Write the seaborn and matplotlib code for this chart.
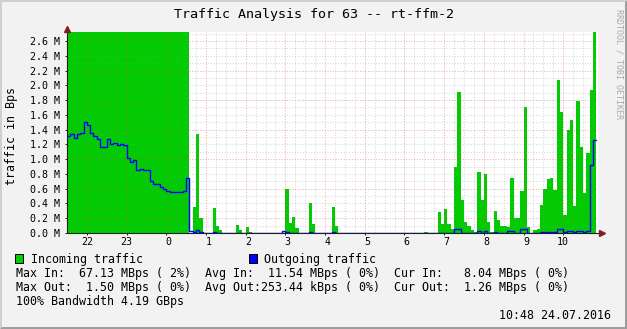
import numpy as np
import pandas as pd
import matplotlib
matplotlib.use("Agg")
import matplotlib.pyplot as plt
from matplotlib.patches import Polygon, Rectangle
import seaborn as sns

# ---------------- data (5-minute steps, starting 21:30) ----------------
start_hour = 21.5
step_hours = 5 / 60

incoming_mbps = [
    41.2, 44.8, 47.5, 50.3, 52.9, 55.6, 58.1, 60.4, 62.7, 64.9,
    66.2, 67.13, 66.5, 65.8, 64.3, 63.1, 61.9, 60.2, 58.7, 57.4,
    56.0, 54.3, 52.8, 51.1, 49.6, 48.2, 46.7, 45.1, 43.6, 42.0,
    40.5, 38.9, 37.2, 35.8, 34.1, 32.6, 30.9, 0.0, 0.35, 1.34,
    0.2, 0, 0, 0, 0.34, 0.1, 0.04, 0, 0, 0,
    0, 0.11, 0.04, 0, 0.08, 0.02, 0, 0, 0, 0,
    0, 0, 0, 0, 0, 0, 0.6, 0.13, 0.22, 0.07,
    0, 0, 0, 0.41, 0.12, 0, 0, 0, 0, 0,
    0.35, 0.1, 0, 0, 0, 0, 0, 0, 0, 0,
    0, 0, 0, 0, 0, 0, 0, 0, 0, 0,
    0, 0, 0, 0, 0, 0, 0, 0, 0.02, 0,
    0, 0, 0.29, 0.12, 0.32, 0.12, 0.05, 0.9, 1.91, 0.45,
    0.15, 0.1, 0.04, 0.02, 0.83, 0.45, 0.8, 0.15, 0.02, 0.3,
    0.17, 0.1, 0.1, 0.08, 0.74, 0.2, 0.2, 0.57, 1.71, 0.08,
    0, 0.04, 0.06, 0.38, 0.6, 0.73, 0.74, 0.58, 2.07, 1.64,
    0.25, 1.39, 1.53, 0.36, 1.79, 1.17, 0.54, 1.08, 1.94, 8.04,
]

outgoing_mbps = [
    1.32, 1.34, 1.28, 1.34, 1.36, 1.50, 1.46, 1.35, 1.32, 1.27,
    1.16, 1.17, 1.27, 1.20, 1.22, 1.19, 1.21, 1.19, 1.01, 0.96,
    0.99, 0.85, 0.86, 0.85, 0.85, 0.70, 0.66, 0.67, 0.62, 0.59,
    0.57, 0.56, 0.56, 0.55, 0.56, 0.57, 0.74, 0.03, 0.02, 0.04,
    0.02, 0, 0, 0, 0.01, 0, 0, 0, 0, 0,
    0, 0, 0, 0, 0, 0, 0, 0, 0, 0,
    0, 0, 0, 0, 0, 0.03, 0.02, 0, 0, 0,
    0, 0, 0, 0.02, 0, 0, 0, 0, 0, 0,
    0.02, 0, 0, 0, 0, 0, 0, 0, 0, 0,
    0, 0, 0, 0, 0, 0, 0, 0, 0, 0,
    0, 0, 0, 0, 0, 0, 0, 0, 0, 0,
    0, 0, 0, 0, 0, 0, 0, 0.05, 0.05, 0,
    0, 0, 0, 0, 0.03, 0, 0.03, 0, 0, 0.02,
    0, 0, 0, 0.03, 0.03, 0, 0, 0.05, 0.05, 0,
    0, 0, 0, 0.02, 0.01, 0.01, 0.02, 0.02, 0.05, 0.05,
    0.01, 0.03, 0.03, 0.01, 0.03, 0.03, 0.02, 0.03, 0.92, 1.26,
]

hour_ticks = [22, 23, 24, 25, 26, 27, 28, 29, 30, 31, 32, 33, 34]
hour_labels = ["22", "23", " 0", " 1", " 2", " 3", " 4", " 5", " 6", " 7", " 8", " 9", "10"]
y_ticks = [0.0, 0.2, 0.4, 0.6, 0.8, 1.0, 1.2, 1.4, 1.6, 1.8, 2.0, 2.2, 2.4, 2.6]
y_major_grid = [0.2, 0.6, 1.0, 1.4, 1.8, 2.2, 2.6]

title = "Traffic Analysis for 63 -- rt-ffm-2"
y_label = "traffic in Bps"
legend_in = "Incoming traffic"
legend_out = "Outgoing traffic"
stat_rows = [
    "Max In:  67.13 MBps ( 2%)  Avg In:  11.54 MBps ( 0%)  Cur In:   8.04 MBps ( 0%)",
    "Max Out:  1.50 MBps ( 0%)  Avg Out:253.44 kBps ( 0%)  Cur Out:  1.26 MBps ( 0%)",
    "100% Bandwidth 4.19 GBps",
]
timestamp = "10:48 24.07.2016"
watermark = "RRDTOOL / TOBI OETIKER"

# ---------------- style ----------------
GREEN = "#00CC00"
BLUE = "#0000FF"
BACK = "#F2F2F2"
SHADE_A = "#CFCFCF"
SHADE_B = "#9E9E9E"
AXIS = "#1F1F1F"
ARROW = "#801F1F"

sns.set_theme(style="white")
plt.rcParams["font.family"] = ["DejaVu Sans Mono"]
plt.rcParams["text.color"] = "black"
plt.rcParams["xtick.color"] = AXIS
plt.rcParams["ytick.color"] = AXIS
plt.rcParams["xtick.labelcolor"] = "black"
plt.rcParams["ytick.labelcolor"] = "black"

W, H = 627, 329
fig = plt.figure(figsize=(W / 100, H / 100), dpi=100)
fig.patch.set_facecolor(BACK)


def fx(px):
    return px / W


def fy(py):
    return 1 - py / H


# bevel frame
fig.add_artist(Polygon([(fx(0), fy(0)), (fx(627), fy(0)), (fx(625), fy(2)), (fx(2), fy(2)),
                        (fx(2), fy(327)), (fx(0), fy(329))], closed=True,
                       transform=fig.transFigure, facecolor=SHADE_A, edgecolor="none"))
fig.add_artist(Polygon([(fx(627), fy(0)), (fx(627), fy(329)), (fx(0), fy(329)), (fx(2), fy(327)),
                        (fx(625), fy(327)), (fx(625), fy(2))], closed=True,
                       transform=fig.transFigure, facecolor=SHADE_B, edgecolor="none"))

left, right, top, bottom = 67, 598, 32, 233
ax = fig.add_axes([fx(left), fy(bottom), (right - left) / W, (bottom - top) / H])
ax.set_facecolor("white")

n = len(incoming_mbps)
edges = start_hour + step_hours * np.arange(n + 1)
starts = edges[:-1]
df = pd.DataFrame({"t": starts + step_hours / 2, "inc": incoming_mbps})

sns.histplot(data=df, x="t", weights="inc", bins=[float(e) for e in edges], element="step", fill=True,
             color=GREEN, alpha=1.0, linewidth=0, ax=ax, zorder=1)

# grid drawn over the area (rrdtool style)
minor_c = (0.56, 0.56, 0.56)
major_c = (0.87, 0.31, 0.31)
dots = (0, (1, 1.6))
for v in np.arange(0.1, 2.75, 0.1):
    if any(abs(v - m) < 1e-6 for m in y_major_grid):
        ax.axhline(v, color=major_c, alpha=0.45, lw=0.75, ls=dots, zorder=2)
    else:
        ax.axhline(v, color=minor_c, alpha=0.35, lw=0.75, ls=dots, zorder=2)
for h in np.arange(21.75, 34.88, 0.25):
    if abs(h - round(h)) < 1e-6:
        ax.axvline(h, color=major_c, alpha=0.45, lw=0.75, ls=dots, zorder=2)
    else:
        ax.axvline(h, color=minor_c, alpha=0.35, lw=0.75, ls=dots, zorder=2)

line_x = np.append(starts, edges[-1])
line_y = np.append(outgoing_mbps, outgoing_mbps[-1])
sns.lineplot(x=line_x, y=line_y, drawstyle="steps-post", color=BLUE, linewidth=1.0,
             ax=ax, estimator=None, sort=False, zorder=4)

ax.set_xlim(21.5, 34.875)
ax.set_ylim(0, 2.722)
ax.set_xlabel("")
ax.set_ylabel("")
for s in ax.spines.values():
    s.set_visible(False)

# axes with arrows
ax.plot([0, 1.008], [0, 0], transform=ax.transAxes, color=AXIS, lw=0.8, clip_on=False, zorder=3)
ax.plot([0, 0], [0, 1.02], transform=ax.transAxes, color=AXIS, lw=0.8, clip_on=False, zorder=3)
ax.plot([1.0075], [0], marker=">", ms=5, color=ARROW, mec=ARROW, transform=ax.transAxes, clip_on=False, zorder=5)
ax.plot([0], [1.017], marker="^", ms=5, color=ARROW, mec=ARROW, transform=ax.transAxes, clip_on=False, zorder=5)

ax.set_xticks(hour_ticks)
ax.set_xticklabels(hour_labels)
ax.set_yticks(y_ticks)
ax.set_yticklabels([f"{v:.1f} M" for v in y_ticks])
ax.tick_params(axis="x", length=1.5, width=0.7, pad=1.5, labelsize=7.2, bottom=True)
ax.tick_params(axis="y", length=1.5, width=0.7, pad=3.6, labelsize=7.2, left=True)

# texts
fig.text(fx(313.5), fy(17.8), title, ha="center", va="baseline", fontsize=9.6)
fig.text(fx(11.5), fy(136), y_label, ha="center", va="center", rotation=90, fontsize=8.37)
fig.text(fx(619), fy(64), watermark, ha="center", va="center", rotation=270, fontsize=6.0, color="#A8A8A8")

fig.add_artist(Rectangle((fx(15), fy(263)), 8 / W, 9 / H, transform=fig.transFigure,
                         facecolor=GREEN, edgecolor="black", lw=0.7))
fig.add_artist(Rectangle((fx(248.5), fy(263)), 8 / W, 9 / H, transform=fig.transFigure,
                         facecolor=BLUE, edgecolor="black", lw=0.7))
fig.text(fx(31), fy(263), legend_in, ha="left", va="baseline", fontsize=8.37)
fig.text(fx(263.5), fy(263), legend_out, ha="left", va="baseline", fontsize=8.37)

for i, row in enumerate(stat_rows):
    fig.text(fx(16.5), fy(277.3 + 14 * i), row, ha="left", va="baseline", fontsize=8.37)
fig.text(fx(611), fy(319.3), timestamp, ha="right", va="baseline", fontsize=8.37)

fig.savefig("out.png", dpi=100, facecolor=fig.get_facecolor())
